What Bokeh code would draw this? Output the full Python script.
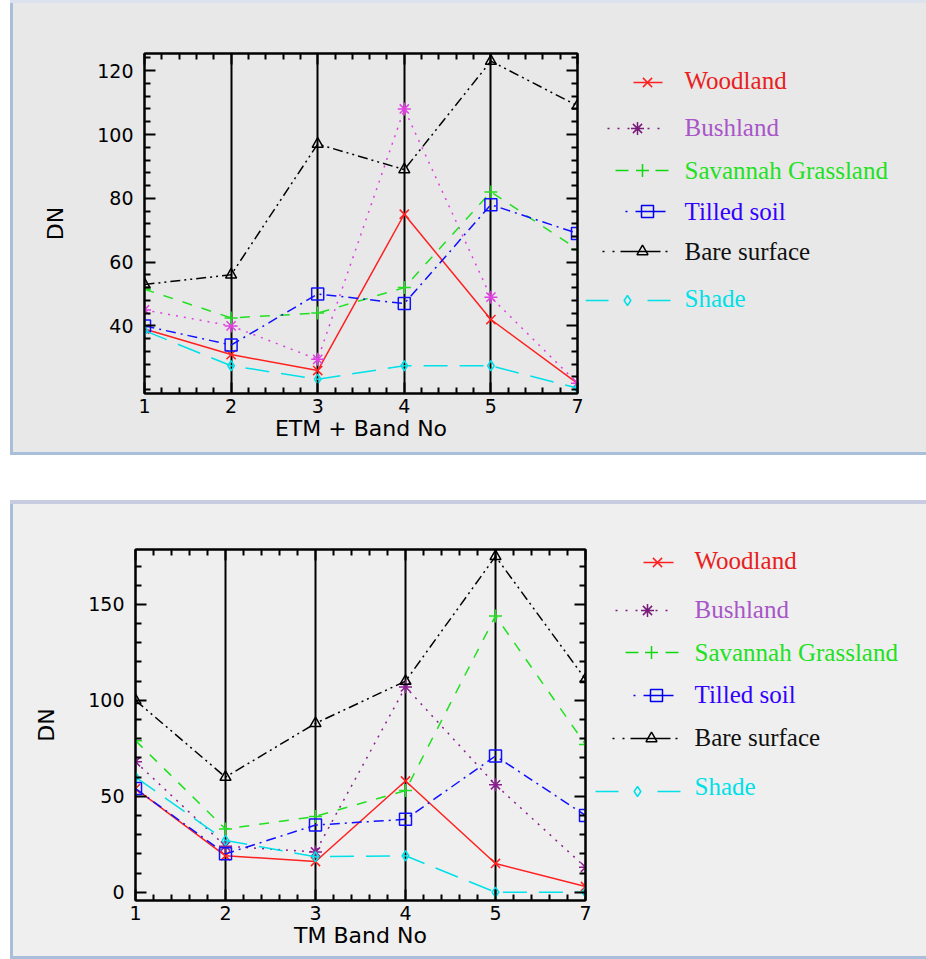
from bokeh.plotting import figure
from bokeh.models import Range1d, FixedTicker, LinearAxis, Spacer
from bokeh.layouts import row, column
from bokeh.core.properties import value
from bokeh.embed import file_html
from bokeh.resources import INLINE

# ---------------- data ----------------
bands = ["1", "2", "3", "4", "5", "7"]
classes = ["Woodland", "Bushland", "Savannah Grassland", "Tilled soil", "Bare surface", "Shade"]

etm_woodland = [39, 31, 26, 75, 42, 22]
etm_bushland = [45, 40, 29.5, 108, 49, 22]
etm_savannah = [51.5, 42.5, 44, 52, 82, 64]
etm_tilled = [40, 34, 50, 47, 78, 69]
etm_bare = [53, 56, 97, 89, 123, 109]
etm_shade = [38.5, 27.5, 23.3, 27.5, 27.5, 20.5]

tm_woodland = [54, 19, 16, 58, 15, 3]
tm_bushland = [68, 24, 21, 107, 56, 13]
tm_savannah = [79, 33, 39.5, 53, 144, 77]
tm_tilled = [54, 20, 35, 38, 71, 40]
tm_bare = [100, 60, 88, 110, 175, 111]
tm_shade = [60, 27, 18.5, 19, 0, 0]

etm_ticks = [40, 60, 80, 100, 120]
tm_ticks = [0, 50, 100, 150]

# ---------------- styles ----------------
markers = ["x", "asterisk", "cross", "square", "triangle", "diamond"]
marker_sizes = [13, 13, 13, 12, 11, 10]
dashes = ["solid", "2 6", "10 10", "10 5 2 5", "10 4 2 4 2 4", "24 12"]
top_colors = ["#ff2020", "#e040e0", "#20e020", "#1010ff", "#000000", "#00e0e8"]
bot_colors = ["#ff2020", "#8a2090", "#20e020", "#1010ff", "#000000", "#00e0e8"]
legend_sym_colors = ["#ff2020", "#7a1a7a", "#10d810", "#0000ee", "#000000", "#00e0e8"]
legend_text_colors = ["#e82020", "#a855c8", "#22e022", "#3300ff", "#101010", "#00e0e8"]
legend_dashes = ["solid", "2 8", "13 27", "2 8 30 8 2 30", "2 8 2 6 40 5 2 5 2 30", "23 39"]

TICK_FONT = "DejaVu Sans"
LEGEND_FONT = "Liberation Serif"


def make_plot(series, colors, ymin, ymax, yticks, yminor, xlabel, width, height,
              mb_left, mb_right, mb_top, mb_bottom, bg):
    x = list(range(len(bands)))
    p = figure(width=width, height=height, x_range=Range1d(0, len(bands) - 1),
               y_range=Range1d(ymin, ymax), output_backend="svg", toolbar_location=None,
               min_border_left=mb_left, min_border_right=mb_right,
               min_border_top=mb_top, min_border_bottom=mb_bottom,
               background_fill_color=bg, border_fill_color=bg,
               outline_line_color="black", outline_line_width=2,
               x_axis_label=xlabel, y_axis_label="DN")
    xminor = [i / 5 for i in range(1, 5 * (len(bands) - 1)) if i % 5 != 0]
    xt = FixedTicker(ticks=x, minor_ticks=xminor)
    yt = FixedTicker(ticks=yticks, minor_ticks=yminor)
    p.xaxis[0].ticker = xt
    p.xaxis[0].major_label_overrides = {i: b for i, b in enumerate(bands)}
    p.yaxis[0].ticker = yt
    for ax in (p.xaxis[0], p.yaxis[0]):
        ax.axis_line_width = 2
        ax.major_tick_in = 11
        ax.major_tick_out = 0
        ax.minor_tick_in = 6
        ax.minor_tick_out = 0
        ax.major_tick_line_width = 2
        ax.minor_tick_line_width = 2
        ax.major_label_text_font = TICK_FONT
        ax.major_label_text_font_size = "19px"
        ax.major_label_text_color = "black"
        ax.axis_label_text_font = TICK_FONT
        ax.axis_label_text_font_size = "22px"
        ax.axis_label_text_font_style = "normal"
        ax.axis_label_text_color = "black"
    p.xaxis[0].major_label_standoff = 5
    p.xaxis[0].axis_label_standoff = 0
    p.yaxis[0].major_label_standoff = 11
    p.yaxis[0].axis_label_standoff = 26
    # mirrored axes (ticks only, empty labels)
    for loc, tk, tvals in (("above", xt, x), ("right", yt, yticks)):
        ax = LinearAxis(ticker=tk, axis_line_width=2, major_tick_in=11, major_tick_out=0,
                        minor_tick_in=6, minor_tick_out=0, major_tick_line_width=2,
                        minor_tick_line_width=2, major_label_standoff=0,
                        major_label_overrides={t: "" for t in tvals})
        p.add_layout(ax, loc)
    p.xgrid.ticker = FixedTicker(ticks=x[1:-1])
    p.xgrid.grid_line_color = "black"
    p.xgrid.grid_line_width = 2
    p.ygrid.visible = False
    for ys, c, d, m, s in zip(series, colors, dashes, markers, marker_sizes):
        p.line(x, ys, line_color=c, line_width=1.5, line_dash=d)
        p.scatter(x, ys, marker=m, size=s, fill_color=None, line_color=c, line_width=1.5)
    return p


def make_legend(x0, x1, height, fy_top, fy_bot, bg, rows_y, text_y, text_x, seg, mark_x):
    # the legend figure's frame is aligned with the neighbouring plot frame
    # (fy_top..fy_bot in page pixels), so use page pixels as coordinates
    p = figure(width=x1 - x0, height=height, x_range=Range1d(x0, x1),
               y_range=Range1d(fy_bot, fy_top),
               output_backend="svg", toolbar_location=None, min_border=0,
               x_axis_type=None, y_axis_type=None, outline_line_color=None,
               background_fill_color=bg, border_fill_color=bg)
    p.grid.visible = False
    for i in range(len(classes)):
        p.line([seg[i][0], seg[i][1]], [rows_y[i], rows_y[i]], line_color=legend_sym_colors[i],
               line_width=1.5, line_dash=legend_dashes[i])
        p.scatter([mark_x[i]], [rows_y[i]], marker=markers[i], size=marker_sizes[i],
                  fill_color=None, line_color=legend_sym_colors[i], line_width=1.5)
    p.text(x=[text_x] * len(classes), y=text_y, text=classes, text_color=legend_text_colors,
           text_font=value(LEGEND_FONT), text_font_size=value("25px"),
           text_baseline="middle", text_align="left")
    return p


BG_TOP = "#e8e8e8"
BG_BOT = "#efefef"
BLUE = "#a9bfd9"

# ---------- top panel ----------
top_series = [etm_woodland, etm_bushland, etm_savannah, etm_tilled, etm_bare, etm_shade]
etm_minor = [20] + [v for v in range(24, 125, 4) if v % 20 != 0]
pA = make_plot(top_series, top_colors, 18.8, 125.4, etm_ticks, etm_minor, "ETM + Band No",
               572, 449, 131, 8, 50, 59, BG_TOP)
pB = make_legend(585, 926, 449, 53, 393, BG_TOP,
                 [82, 128, 170, 211, 251, 300], [80, 127, 170, 211, 251, 298], 684,
                 [(633, 662), (607, 662), (615, 668), (625, 667), (602, 672), (585, 670)],
                 [647, 637, 642, 647, 642, 627])

top_block = row(
    Spacer(width=10, height=455),
    column(
        Spacer(width=916, height=3, styles={"background-color": "#dde3ee"}),
        row(Spacer(width=3, height=449, styles={"background-color": BLUE}), pA, pB,
            styles={"background-color": BG_TOP}),
        Spacer(width=916, height=3, styles={"background-color": BLUE}),
    ),
)

# ---------- bottom panel ----------
bot_series = [tm_woodland, tm_bushland, tm_savannah, tm_tilled, tm_bare, tm_shade]
tm_minor = [v for v in range(0, 180, 10) if v % 50 != 0]
pC = make_plot(bot_series, bot_colors, -4.3, 178.6, tm_ticks, tm_minor, "TM Band No",
               580, 452, 122, 8, 45, 56, BG_BOT)
pD = make_legend(593, 926, 452, 549, 900, BG_BOT,
                 [562, 610, 652, 695, 738, 791], [560, 609, 652, 694, 737, 786], 694,
                 [(643, 673), (615, 672), (625, 678), (633, 677), (612, 680), (595, 680)],
                 [657, 647, 651, 656, 651, 637])

bot_block = row(
    Spacer(width=10, height=459),
    column(
        Spacer(width=916, height=4, styles={"background-color": "#c8cce0"}),
        row(Spacer(width=3, height=452, styles={"background-color": BLUE}), pC, pD,
            styles={"background-color": BG_BOT}),
        Spacer(width=916, height=3, styles={"background-color": BLUE}),
    ),
)

page = column(top_block, Spacer(width=926, height=45), bot_block)

open("out.html", "w").write(file_html(page, INLINE))
